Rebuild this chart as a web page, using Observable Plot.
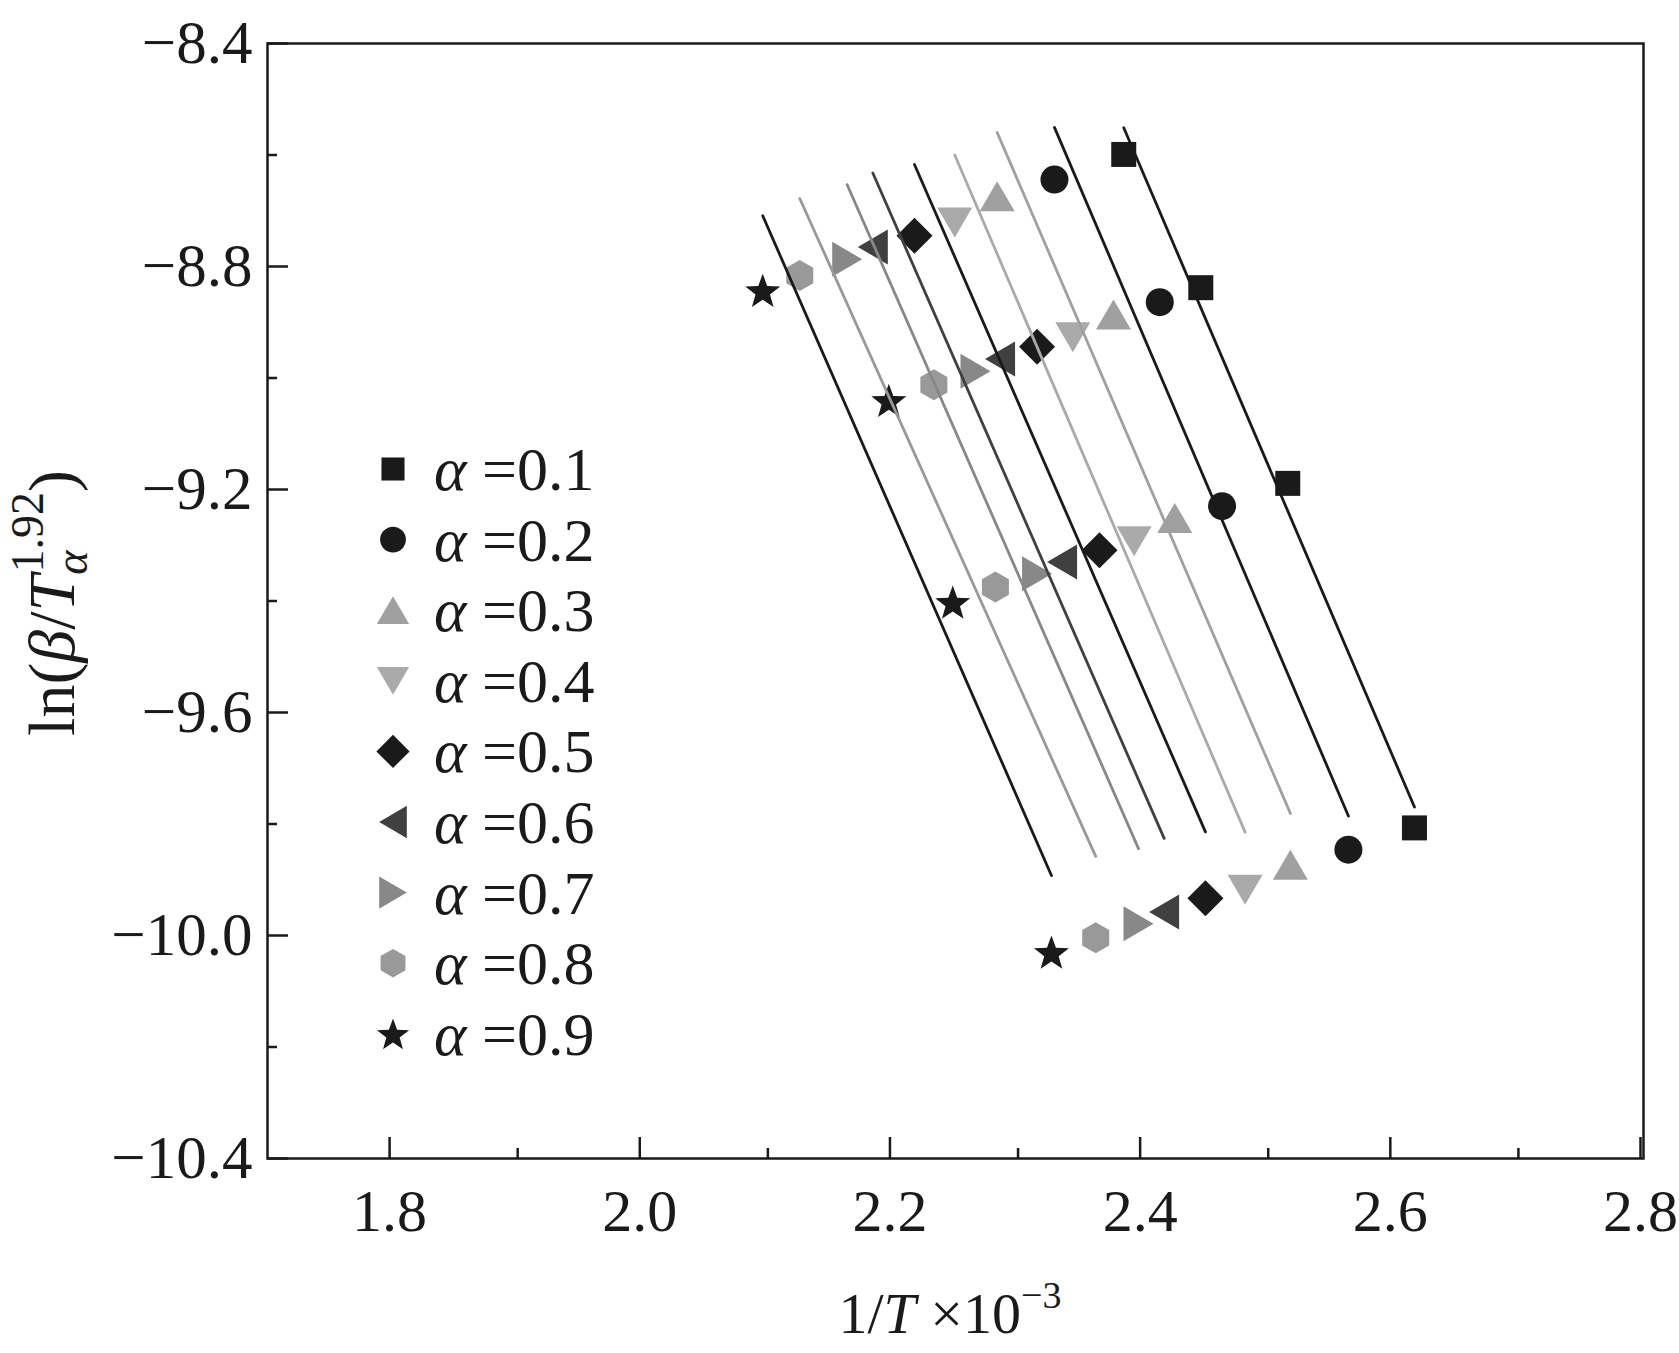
<!DOCTYPE html>
<html><head><meta charset="utf-8">
<script src="https://cdn.jsdelivr.net/npm/d3@7"></script>
<script src="https://cdn.jsdelivr.net/npm/@observablehq/plot@0.6"></script>
<style>body{margin:0;background:#fff}</style>
</head><body><div id="chart"></div>
<script>
// ---- data ----
const alphas = ["0.1","0.2","0.3","0.4","0.5","0.6","0.7","0.8","0.9"];
const invT_01 = [2.3845, 2.4461, 2.5156, 2.6169]; const lnY_01 = [-8.599, -8.838, -9.189, -9.807];
const invT_02 = [2.3291, 2.4133, 2.4631, 2.5641]; const lnY_02 = [-8.644, -8.864, -9.230, -9.846];
const invT_03 = [2.2833, 2.3763, 2.4253, 2.5177]; const lnY_03 = [-8.674, -8.886, -9.251, -9.873];
const invT_04 = [2.2494, 2.3438, 2.3928, 2.4815]; const lnY_04 = [-8.721, -8.927, -9.293, -9.918];
const invT_05 = [2.2172, 2.3152, 2.3651, 2.4498]; const lnY_05 = [-8.745, -8.944, -9.309, -9.933];
const invT_06 = [2.1839, 2.2856, 2.3352, 2.4168]; const lnY_06 = [-8.765, -8.966, -9.330, -9.958];
const invT_07 = [2.1634, 2.2660, 2.3152, 2.3963]; const lnY_07 = [-8.787, -8.988, -9.351, -9.979];
const invT_08 = [2.1255, 2.2327, 2.2819, 2.3621]; const lnY_08 = [-8.816, -9.012, -9.375, -10.004];
const invT_09 = [2.0959, 2.1967, 2.2478, 2.3267]; const lnY_09 = [-8.843, -9.040, -9.402, -10.030];
const xTicksMajor = [1.8, 2.0, 2.2, 2.4, 2.6, 2.8];
const xTicksMinor = [1.9, 2.1, 2.3, 2.5, 2.7];
const yTicksMajor = [-8.4, -8.8, -9.2, -9.6, -10.0, -10.4];
const yTicksMinor = [-8.6, -9.0, -9.4, -9.8, -10.2];
const colors = ["#1a1a1a","#1a1a1a","#a0a0a0","#aaaaaa","#1a1a1a","#404040","#888888","#999999","#1a1a1a"];

const xs = [invT_01,invT_02,invT_03,invT_04,invT_05,invT_06,invT_07,invT_08,invT_09];
const ys = [lnY_01,lnY_02,lnY_03,lnY_04,lnY_05,lnY_06,lnY_07,lnY_08,lnY_09];

// ---- symbols (bounding-box centred, sized for r = 10) ----
function poly(pts){
  return {draw(ctx, size){
    const k = Math.sqrt(size/Math.PI)/10;
    ctx.moveTo(pts[0][0]*k, pts[0][1]*k);
    for (let i=1;i<pts.length;i++) ctx.lineTo(pts[i][0]*k, pts[i][1]*k);
    ctx.closePath();
  }};
}
const symCircle = {draw(ctx,size){const k=Math.sqrt(size/Math.PI)/10; ctx.moveTo(14*k,0); ctx.arc(0,0,14*k,0,2*Math.PI); ctx.closePath();}};
const starPts = (()=>{const R=18.4,r=7.6,off=0.0955*R,p=[];for(let i=0;i<10;i++){const a=-Math.PI/2+i*Math.PI/5,rr=i%2?r:R;p.push([rr*Math.cos(a),rr*Math.sin(a)+off]);}return p;})();
const symbols = [
  poly([[-12.5,-12.5],[12.5,-12.5],[12.5,12.5],[-12.5,12.5]]),
  symCircle,
  poly([[0,-15],[17.5,15],[-17.5,15]]),
  poly([[0,15],[17.5,-15],[-17.5,-15]]),
  poly([[0,-18],[18,0],[0,18],[-18,0]]),
  poly([[-15,0],[15,-17.5],[15,17.5]]),
  poly([[15,0],[-15,-17.5],[-15,17.5]]),
  poly([[0,-15.5],[13.5,-7.75],[13.5,7.75],[0,15.5],[-13.5,7.75],[-13.5,-7.75]]),
  poly(starPts)
];

const fmt = d => d.toFixed(1).replace("-", "\u2212");
const FONT = "'Liberation Serif', 'Times New Roman', serif";

const marks = [];
alphas.forEach((a,i) => {
  const data = xs[i].map((x,j)=>({x, y: ys[i][j]}));
  marks.push(Plot.dot(data, {x:"x", y:"y", symbol: symbols[i], r: 10, fill: colors[i], stroke: "none"}));
});
alphas.forEach((a,i) => {
  const data = xs[i].map((x,j)=>({x, y: ys[i][j]}));
  marks.push(Plot.linearRegressionY(data, {x:"x", y:"y", stroke: colors[i], strokeWidth: 2.8, ci: 0}));
});

const axisStyle = {stroke:"#1a1a1a", strokeWidth: 2.5, fill:"#1a1a1a", label: null};
marks.push(
  Plot.axisX(xTicksMajor, {...axisStyle, fontSize: 60, anchor:"bottom", tickSize: -21, tickPadding: 51, dx: -3, tickFormat: fmt}),
  Plot.axisX(xTicksMinor, {...axisStyle, anchor:"bottom", tickSize: -10, tickFormat: () => ""}),
  Plot.axisY(yTicksMajor, {...axisStyle, fontSize: 61, anchor:"left", tickSize: -21, tickPadding: 36, tickFormat: fmt}),
  Plot.axisY(yTicksMinor, {...axisStyle, anchor:"left", tickSize: -10, tickFormat: () => ""}),
  Plot.frame({stroke:"#1a1a1a", strokeWidth: 2.5})
);

const plot = Plot.plot({
  width: 1679, height: 1353,
  marginLeft: 267, marginRight: 36, marginTop: 43, marginBottom: 195,
  style: {fontFamily: FONT, background: "#fff", color: "#1a1a1a"},
  x: {domain: [1.7, 2.8]},
  y: {domain: [-10.4, -8.4]},
  marks
});
document.getElementById("chart").appendChild(plot);

const svg = d3.select(plot);
// y-axis title
const yt = svg.append("text")
  .attr("transform", "translate(74,603) rotate(-90)")
  .attr("text-anchor", "middle")
  .attr("font-family", FONT).attr("font-size", 66).attr("fill", "#1a1a1a");
yt.append("tspan").text("ln(");
yt.append("tspan").attr("font-style","italic").text("\u03b2");
yt.append("tspan").text("/");
yt.append("tspan").attr("font-style","italic").text("T");
yt.append("tspan").attr("font-style","italic").attr("font-size",46).attr("dy",13).text("\u03b1");
yt.append("tspan").attr("font-size",46).attr("dx",-22).attr("dy",-44).text("1.92");
yt.append("tspan").attr("dy",31).text(")");

// x-axis title
const xt = svg.append("text")
  .attr("x", 950).attr("y", 1333)
  .attr("text-anchor", "middle")
  .attr("font-family", FONT).attr("font-size", 58).attr("fill", "#1a1a1a");
xt.append("tspan").text("1/");
xt.append("tspan").attr("font-style","italic").text("T");
xt.append("tspan").text("\u00a0\u00d710");
xt.append("tspan").attr("font-size",38).attr("dy",-25).text("\u22123");

// legend
const lg = svg.append("g");
alphas.forEach((a,i) => {
  const cy = 469 + i*70.6;
  lg.append("path")
    .attr("transform", `translate(393,${cy})`)
    .attr("d", d3.symbol().type(symbols[i]).size(Math.PI*100*0.85)())
    .attr("fill", colors[i]);
  const t = lg.append("text").attr("x", 434).attr("y", cy).attr("dy","0.34em")
    .attr("text-anchor", "start")
    .attr("font-family", FONT).attr("font-size", 62).attr("fill","#1a1a1a");
  t.append("tspan").attr("font-style","italic").text("\u03b1");
  t.append("tspan").text("\u00a0=" + a);
});
</script>
</body></html>
